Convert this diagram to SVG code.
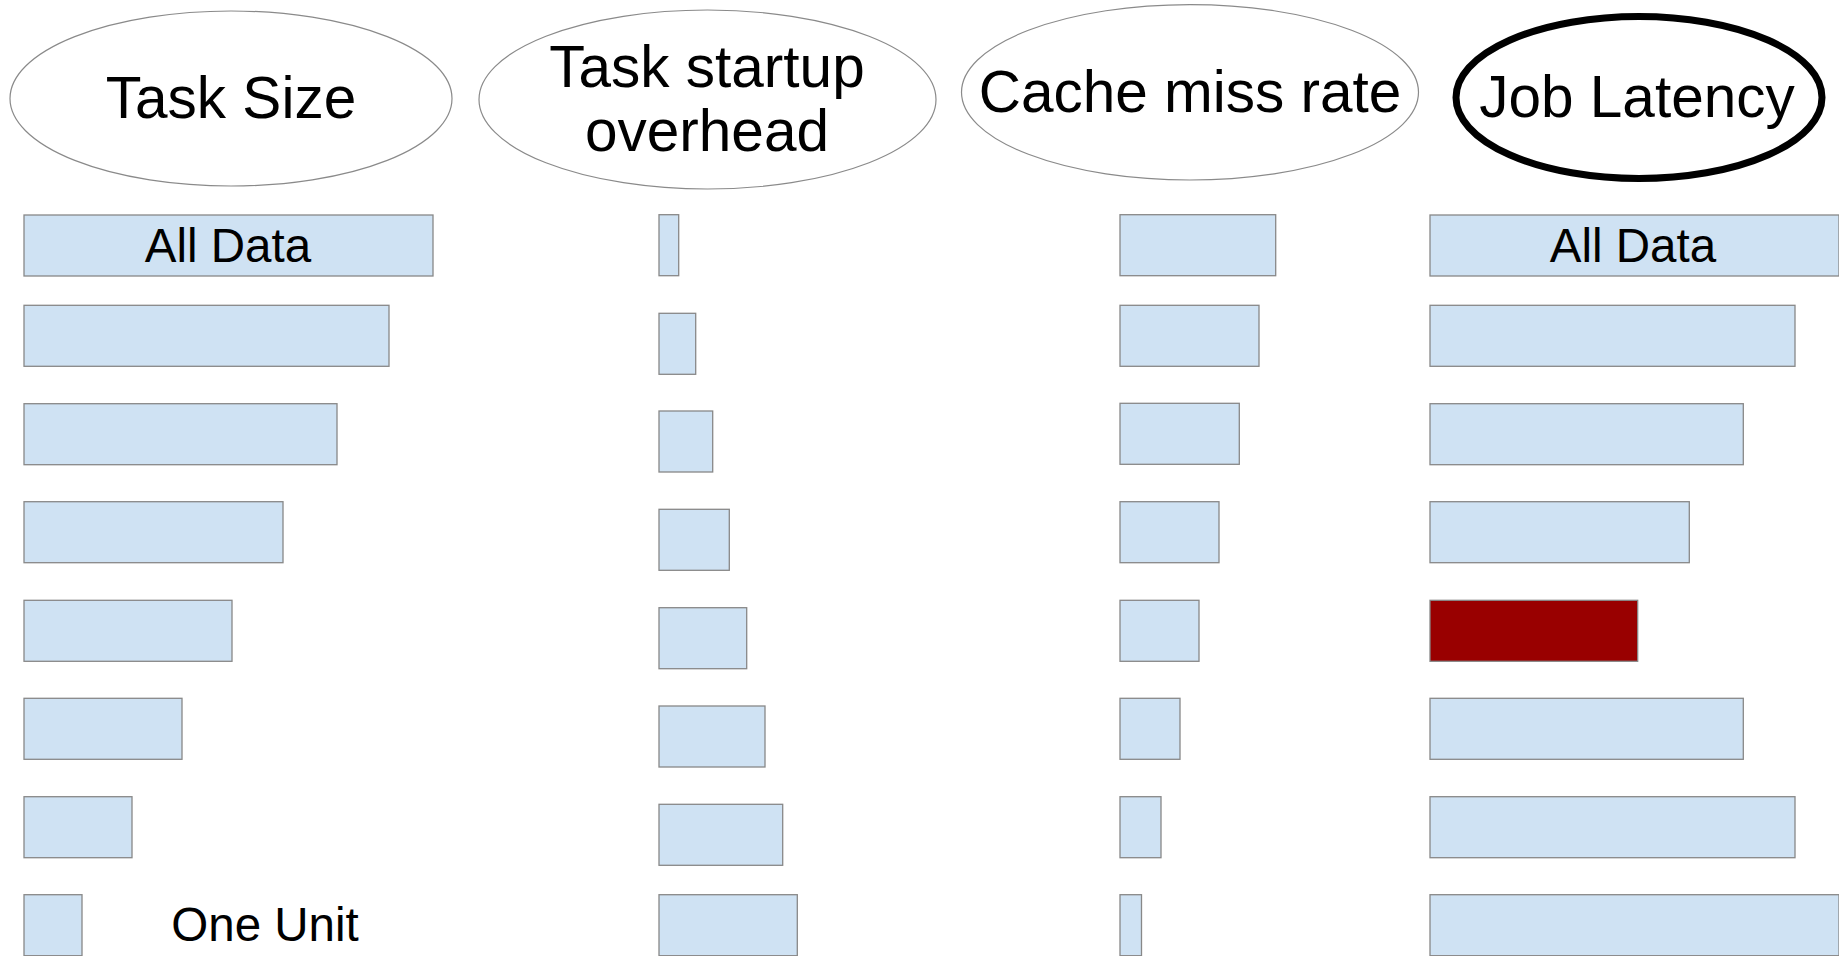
<svg xmlns="http://www.w3.org/2000/svg" width="1839" height="956" viewBox="0 0 1839 956">
<style>
.bg{fill:#ffffff}
.head{fill:#ffffff;stroke:#8a8a8a;stroke-width:1.2}
.headb{fill:#ffffff;stroke:#000000;stroke-width:7}
.bar{fill:#cfe2f3;stroke:#888888;stroke-width:1.3}
.hot{fill:#990000;stroke:#888888;stroke-width:1.3}
.t{font-family:"Liberation Sans",Arial,sans-serif;fill:#000000;text-anchor:middle}
.h{font-size:58.5px}
.l{font-size:47.5px}
</style>
<rect class="bg" x="0" y="0" width="1839" height="956"/>
<g id="node-task-size">
<ellipse class="head" cx="231" cy="98.5" rx="221" ry="87.5"/>
<text class="t h" x="231" y="118">Task Size</text>
</g>
<g id="node-startup">
<ellipse class="head" cx="707.5" cy="99.5" rx="228.5" ry="89.5"/>
<text class="t h" x="707" y="87">Task startup</text>
<text class="t h" x="707" y="150.5">overhead</text>
</g>
<g id="node-cache">
<ellipse class="head" cx="1190" cy="92.3" rx="228.5" ry="87.7"/>
<text class="t h" x="1190" y="111.5">Cache miss rate</text>
</g>
<g id="node-latency">
<ellipse class="headb" cx="1639" cy="97.5" rx="183" ry="81"/>
<text class="t h" x="1637" y="116.5">Job Latency</text>
</g>
<g id="col-task-size">
<rect class="bar" x="24" y="215" width="409" height="61"/>
<text class="t l" x="228" y="262">All Data</text>
<rect class="bar" x="24" y="305.3" width="365" height="61"/>
<rect class="bar" x="24" y="403.7" width="313" height="61"/>
<rect class="bar" x="24" y="501.7" width="259" height="61"/>
<rect class="bar" x="24" y="600.3" width="208" height="61"/>
<rect class="bar" x="24" y="698.3" width="158" height="61"/>
<rect class="bar" x="24" y="796.7" width="108" height="61"/>
<rect class="bar" x="24" y="894.7" width="58" height="61"/>
<text class="t l" x="265" y="941">One Unit</text>
</g>
<g id="col-startup">
<rect class="bar" x="659" y="214.7" width="19.7" height="61"/>
<rect class="bar" x="659" y="313.3" width="36.7" height="61"/>
<rect class="bar" x="659" y="411" width="53.7" height="61"/>
<rect class="bar" x="659" y="509.3" width="70.3" height="61"/>
<rect class="bar" x="659" y="607.7" width="87.7" height="61"/>
<rect class="bar" x="659" y="706" width="106" height="61"/>
<rect class="bar" x="659" y="804.3" width="123.7" height="61"/>
<rect class="bar" x="659" y="894.7" width="138.3" height="61"/>
</g>
<g id="col-cache">
<rect class="bar" x="1120" y="214.7" width="155.7" height="61"/>
<rect class="bar" x="1120" y="305.3" width="139" height="61"/>
<rect class="bar" x="1120" y="403.3" width="119.3" height="61"/>
<rect class="bar" x="1120" y="501.7" width="99" height="61"/>
<rect class="bar" x="1120" y="600.3" width="79" height="61"/>
<rect class="bar" x="1120" y="698.3" width="60" height="61"/>
<rect class="bar" x="1120" y="796.7" width="41" height="61"/>
<rect class="bar" x="1120" y="894.7" width="21.5" height="61"/>
</g>
<g id="col-latency">
<rect class="bar" x="1430" y="215" width="409" height="61"/>
<text class="t l" x="1633" y="262">All Data</text>
<rect class="bar" x="1430" y="305.3" width="365" height="61"/>
<rect class="bar" x="1430" y="403.7" width="313.3" height="61"/>
<rect class="bar" x="1430" y="501.7" width="259.3" height="61"/>
<rect class="hot" x="1430" y="600.3" width="207.7" height="61"/>
<rect class="bar" x="1430" y="698.3" width="313.3" height="61"/>
<rect class="bar" x="1430" y="796.7" width="365" height="61"/>
<rect class="bar" x="1430" y="894.7" width="409" height="61"/>
</g>
<g id="connectors"></g>
</svg>
